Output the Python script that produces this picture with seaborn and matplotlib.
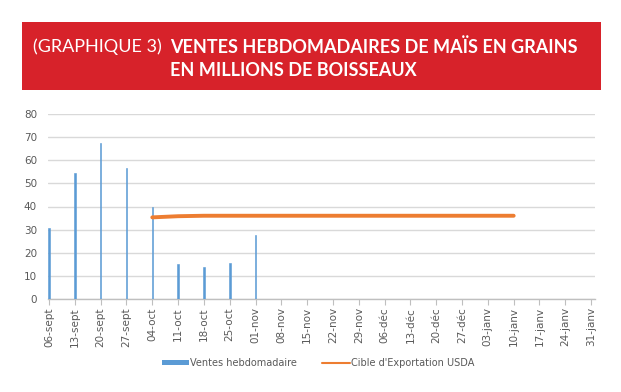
import numpy as np
import pandas as pd
import seaborn as sns
import matplotlib.pyplot as plt
from matplotlib.patches import Rectangle, Patch
from matplotlib.lines import Line2D

# weekly categories
semaines = ["06-sept", "13-sept", "20-sept", "27-sept", "04-oct", "11-oct", "18-oct",
            "25-oct", "01-nov", "08-nov", "15-nov", "22-nov", "29-nov", "06-déc",
            "13-déc", "20-déc", "27-déc", "03-janv", "10-janv", "17-janv", "24-janv",
            "31-janv"]
ventes = [30.5, 54.5, 67.5, 56.5, 40.0, 15.2, 14.0, 15.5, 27.5,
          0, 0, 0, 0, 0, 0, 0, 0, 0, 0, 0, 0, 0]
cible_semaines = semaines[4:19]
cible = [35.3, 35.8, 36.0, 36.0, 36.0, 36.0, 36.0, 36.0, 36.0, 36.0, 36.0, 36.0, 36.0, 36.0, 36.0]

sns.set_theme(style="white")
plt.rcParams["font.family"] = ["DejaVu Sans"]

fig = plt.figure(figsize=(6.21, 3.92), dpi=100)

# red banner
fig.patches.append(Rectangle((22 / 621, 1 - 90 / 392), 579 / 621, 68 / 392,
                             transform=fig.transFigure, facecolor="#D7222A",
                             edgecolor="none", zorder=0))
fig.text(33 / 621, 1 - 47 / 392, "(GRAPHIQUE 3)", color="white", fontsize=13,
         family=["Lato", "DejaVu Sans"], fontweight="normal", va="center", ha="left")
fig.text(170 / 621, 1 - 47 / 392, "VENTES HEBDOMADAIRES DE MAÏS EN GRAINS", color="white",
         fontsize=13, fontweight="bold", family=["Lato", "DejaVu Sans"],
         va="center", ha="left")
fig.text(170 / 621, 1 - 70 / 392, "EN MILLIONS DE BOISSEAUX", color="white",
         fontsize=13, fontweight="bold", family=["Lato", "DejaVu Sans"],
         va="center", ha="left")

ax = fig.add_axes([48 / 621, 1 - 299 / 392, (595 - 48) / 621, (299 - 114) / 392])

df = pd.DataFrame({"semaine": semaines, "ventes": ventes})
sns.barplot(data=df, x="semaine", y="ventes", color="#5B9BD5", width=0.06,
            saturation=1, ax=ax, zorder=3, edgecolor="#5B9BD5", linewidth=0.4)
dc = pd.DataFrame({"pos": np.arange(4, 19), "cible": cible})
sns.lineplot(data=dc, x="pos", y="cible", color="#ED7D31", linewidth=2.8, ax=ax, zorder=4)

ax.set_xlim(-0.04, 21.15)
ax.set_ylim(0, 80)
ax.set_yticks(range(0, 81, 10))
ax.set_xticks(range(len(semaines)))
ax.set_xticklabels(semaines, rotation=90, fontsize=7.5, color="#595959")
ax.tick_params(axis="y", labelsize=7.5, colors="#595959", length=0, pad=8)
ax.tick_params(axis="x", length=4, width=0.8, color="#BFBFBF", pad=2, bottom=True)
ax.yaxis.grid(True, color="#D9D9D9", linewidth=1)
ax.set_axisbelow(True)
ax.set_xlabel("")
ax.set_ylabel("")
for s in ["top", "right", "left"]:
    ax.spines[s].set_visible(False)
ax.spines["bottom"].set_color("#BFBFBF")
ax.spines["bottom"].set_linewidth(1)

handles = [Patch(facecolor="#5B9BD5", edgecolor="none", label="Ventes hebdomadaire"),
           Line2D([0], [0], color="#ED7D31", linewidth=1.5, label="Cible d'Exportation USDA")]
fig.legend(handles=handles, loc="center", bbox_to_anchor=(318 / 621, 1 - 363 / 392),
           ncol=2, frameon=False, fontsize=7, handlelength=2.8, handleheight=0.45,
           handletextpad=0.1, columnspacing=2.6, labelcolor="#595959")

fig.savefig("out.png", dpi=100)
